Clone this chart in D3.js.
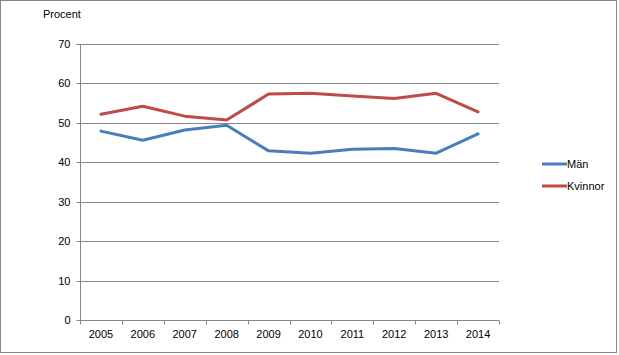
<!DOCTYPE html>
<html><head><meta charset="utf-8">
<script src="https://cdn.jsdelivr.net/npm/d3@7/dist/d3.min.js"></script>
<style>body{margin:0;background:#fff}svg{display:block}text{font-family:"Liberation Sans",Arial,sans-serif;font-size:11px;fill:#000}</style>
</head><body><svg id="c" width="619" height="355"></svg>
<script>
const years = ["2005","2006","2007","2008","2009","2010","2011","2012","2013","2014"];
const man = [47.9,45.6,48.2,49.4,42.9,42.3,43.3,43.5,42.3,47.2];
const kvinnor = [52.2,54.2,51.7,50.7,57.3,57.5,56.8,56.2,57.5,52.8];
const yTicks = [0,10,20,30,40,50,60,70];
const seriesNames = ["Män","Kvinnor"];
const colors = ["#4a7ebb","#be4b48"];

const svg = d3.select("#c");
svg.append("rect").attr("x",0.5).attr("y",0.5).attr("width",616).attr("height",352)
  .attr("fill","#fff").attr("stroke","#868686");

const L=80, R=499, T=44, B=320;
const x = d3.scaleBand().domain(years).range([L,R]);
const y = d3.scaleLinear().domain([0,70]).range([B,T]);

// grid
svg.append("g").selectAll("line").data(yTicks.filter(d=>d>0)).join("line")
  .attr("x1",L).attr("x2",R).attr("y1",d=>Math.round(y(d))+0.5).attr("y2",d=>Math.round(y(d))+0.5)
  .attr("stroke","#868686");

// y axis
const ya = svg.append("g").attr("transform",`translate(${L+0.5},0.5)`)
  .call(d3.axisLeft(y).tickValues(yTicks).tickSize(4).tickPadding(6).tickFormat(d3.format("d")));
ya.select(".domain").attr("stroke","#868686").attr("d",`M-4,${Math.round(T)}H0V${B}`);
ya.selectAll(".tick line").attr("stroke","#868686");
ya.selectAll(".tick").attr("transform",d=>`translate(0,${Math.round(y(d))})`);
ya.selectAll("text").style("font-size","11px").attr("fill","#000");

// x axis
const xa = svg.append("g").attr("transform",`translate(0,${B+0.5})`);
xa.append("line").attr("x1",L).attr("x2",R).attr("stroke","#868686");
const bounds = years.map(d=>x(d)).concat([R]);
xa.selectAll("line.t").data(bounds).join("line").attr("class","t")
  .attr("x1",d=>Math.round(d)+0.5).attr("x2",d=>Math.round(d)+0.5).attr("y1",0).attr("y2",4).attr("stroke","#868686");
xa.selectAll("text").data(years).join("text")
  .attr("x",d=>x(d)+x.bandwidth()/2).attr("y",17).attr("text-anchor","middle").text(d=>d);

// lines
const line = d3.line().x((d,i)=>x(years[i])+x.bandwidth()/2).y(d=>y(d));
[man,kvinnor].forEach((s,i)=>{
  svg.append("path").datum(s).attr("d",line).attr("fill","none")
    .attr("stroke",colors[i]).attr("stroke-width",3).attr("stroke-linejoin","round").attr("stroke-linecap","round");
});

// title
svg.append("text").attr("x",43).attr("y",18).text("Procent");

// legend
seriesNames.forEach((n,i)=>{
  const ly = 164 + i*22;
  svg.append("line").attr("x1",542).attr("x2",567).attr("y1",ly).attr("y2",ly)
    .attr("stroke",colors[i]).attr("stroke-width",3);
  svg.append("text").attr("x",567).attr("y",ly+4).text(n);
});
</script></body></html>
